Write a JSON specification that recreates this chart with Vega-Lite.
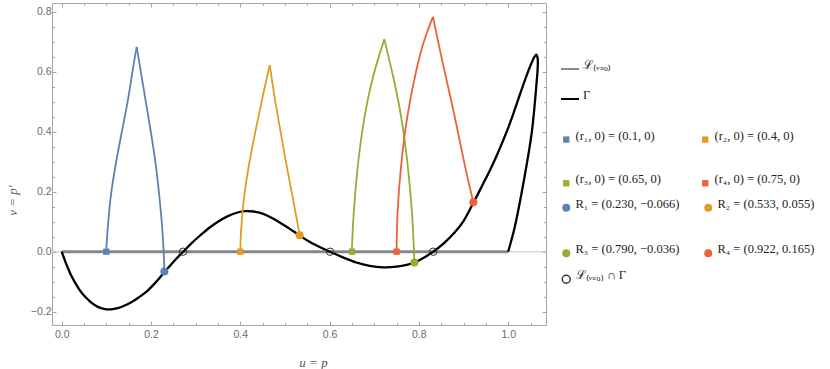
{
  "$schema": "https://vega.github.io/schema/vega-lite/v6.json",
  "width": 494,
  "height": 322,
  "autosize": {"type": "none"},
  "padding": {"left": 52, "top": 3, "right": 284, "bottom": 44},
  "config": {
    "view": {"stroke": null},
    "axis": {
      "grid": false,
      "domainColor": "#a6a6a6",
      "tickColor": "#a6a6a6",
      "labelColor": "#6b6b6b",
      "labelFont": "Liberation Sans",
      "labelFontSize": 10.5,
      "titleFont": "Liberation Serif",
      "titleFontStyle": "italic",
      "titleFontWeight": "normal",
      "titleFontSize": 13,
      "titleColor": "#555555"
    },
    "legend": {
      "labelFont": "Liberation Serif",
      "labelFontSize": 12.5,
      "labelColor": "#222222",
      "padding": 0,
      "labelBaseline": "alphabetic",
      "labelOffset": 3
    }
  },
  "datasets": {
    "Lline": [
      {"u": 0, "v": 0, "name": "ℒ₍ᵥ₌₀₎"},
      {"u": 1, "v": 0, "name": "ℒ₍ᵥ₌₀₎"}
    ],
    "gamma": [
      {"t": 0, "u": 0.0, "v": 0.0},
      {"t": 1, "u": 0.01, "v": -0.04},
      {"t": 2, "u": 0.02, "v": -0.075},
      {"t": 3, "u": 0.03, "v": -0.103},
      {"t": 4, "u": 0.04, "v": -0.127},
      {"t": 5, "u": 0.05, "v": -0.146},
      {"t": 6, "u": 0.06, "v": -0.161},
      {"t": 7, "u": 0.07, "v": -0.174},
      {"t": 8, "u": 0.08, "v": -0.183},
      {"t": 9, "u": 0.09, "v": -0.189},
      {"t": 10, "u": 0.1, "v": -0.192},
      {"t": 11, "u": 0.11, "v": -0.192},
      {"t": 12, "u": 0.125, "v": -0.188},
      {"t": 13, "u": 0.14, "v": -0.18},
      {"t": 14, "u": 0.155, "v": -0.169},
      {"t": 15, "u": 0.17, "v": -0.155},
      {"t": 16, "u": 0.19, "v": -0.133},
      {"t": 17, "u": 0.21, "v": -0.103},
      {"t": 18, "u": 0.23, "v": -0.068},
      {"t": 19, "u": 0.25, "v": -0.034},
      {"t": 20, "u": 0.272, "v": 0.0},
      {"t": 21, "u": 0.29, "v": 0.027},
      {"t": 22, "u": 0.31, "v": 0.054},
      {"t": 23, "u": 0.33, "v": 0.079},
      {"t": 24, "u": 0.35, "v": 0.1},
      {"t": 25, "u": 0.37, "v": 0.117},
      {"t": 26, "u": 0.39, "v": 0.129},
      {"t": 27, "u": 0.41, "v": 0.135},
      {"t": 28, "u": 0.43, "v": 0.134},
      {"t": 29, "u": 0.45, "v": 0.127},
      {"t": 30, "u": 0.47, "v": 0.113},
      {"t": 31, "u": 0.49, "v": 0.096},
      {"t": 32, "u": 0.51, "v": 0.077},
      {"t": 33, "u": 0.533, "v": 0.054},
      {"t": 34, "u": 0.555, "v": 0.033},
      {"t": 35, "u": 0.58, "v": 0.014},
      {"t": 36, "u": 0.601, "v": 0.0},
      {"t": 37, "u": 0.63, "v": -0.019},
      {"t": 38, "u": 0.66, "v": -0.036},
      {"t": 39, "u": 0.69, "v": -0.047},
      {"t": 40, "u": 0.72, "v": -0.052},
      {"t": 41, "u": 0.75, "v": -0.05},
      {"t": 42, "u": 0.775, "v": -0.043},
      {"t": 43, "u": 0.79, "v": -0.036},
      {"t": 44, "u": 0.81, "v": -0.021},
      {"t": 45, "u": 0.832, "v": 0.0},
      {"t": 46, "u": 0.855, "v": 0.027},
      {"t": 47, "u": 0.88, "v": 0.064},
      {"t": 48, "u": 0.9, "v": 0.102},
      {"t": 49, "u": 0.922, "v": 0.163},
      {"t": 50, "u": 0.94, "v": 0.215},
      {"t": 51, "u": 0.96, "v": 0.274},
      {"t": 52, "u": 0.98, "v": 0.34},
      {"t": 53, "u": 1.0, "v": 0.413},
      {"t": 54, "u": 1.015, "v": 0.475},
      {"t": 55, "u": 1.03, "v": 0.54},
      {"t": 56, "u": 1.042, "v": 0.59},
      {"t": 57, "u": 1.052, "v": 0.628},
      {"t": 58, "u": 1.059, "v": 0.65},
      {"t": 59, "u": 1.063, "v": 0.657},
      {"t": 60, "u": 1.066, "v": 0.645},
      {"t": 61, "u": 1.066, "v": 0.61},
      {"t": 62, "u": 1.064, "v": 0.57},
      {"t": 63, "u": 1.0526, "v": 0.395},
      {"t": 64, "u": 1.034, "v": 0.228},
      {"t": 65, "u": 1.015, "v": 0.084},
      {"t": 66, "u": 1.0, "v": 0.0}
    ],
    "arcs": [
      {"s": "1", "part": "1up", "u": 0.1, "v": 0.0},
      {"s": "1", "part": "1up", "u": 0.1003, "v": 0.02},
      {"s": "1", "part": "1up", "u": 0.1022, "v": 0.061},
      {"s": "1", "part": "1up", "u": 0.108, "v": 0.172},
      {"s": "1", "part": "1up", "u": 0.1196, "v": 0.283},
      {"s": "1", "part": "1up", "u": 0.134, "v": 0.395},
      {"s": "1", "part": "1up", "u": 0.149, "v": 0.506},
      {"s": "1", "part": "1up", "u": 0.16, "v": 0.617},
      {"s": "1", "part": "1up", "u": 0.168, "v": 0.683},
      {"s": "1", "part": "1dn", "u": 0.168, "v": 0.683},
      {"s": "1", "part": "1dn", "u": 0.179, "v": 0.583},
      {"s": "1", "part": "1dn", "u": 0.194, "v": 0.45},
      {"s": "1", "part": "1dn", "u": 0.209, "v": 0.317},
      {"s": "1", "part": "1dn", "u": 0.22, "v": 0.172},
      {"s": "1", "part": "1dn", "u": 0.2276, "v": 0.039},
      {"s": "1", "part": "1dn", "u": 0.23, "v": -0.066},
      {"s": "2", "part": "2up", "u": 0.4, "v": 0.0},
      {"s": "2", "part": "2up", "u": 0.4003, "v": 0.02},
      {"s": "2", "part": "2up", "u": 0.401, "v": 0.061},
      {"s": "2", "part": "2up", "u": 0.4068, "v": 0.172},
      {"s": "2", "part": "2up", "u": 0.418, "v": 0.283},
      {"s": "2", "part": "2up", "u": 0.433, "v": 0.395},
      {"s": "2", "part": "2up", "u": 0.4515, "v": 0.528},
      {"s": "2", "part": "2up", "u": 0.466, "v": 0.622},
      {"s": "2", "part": "2dn", "u": 0.466, "v": 0.622},
      {"s": "2", "part": "2dn", "u": 0.478, "v": 0.5},
      {"s": "2", "part": "2dn", "u": 0.491, "v": 0.395},
      {"s": "2", "part": "2dn", "u": 0.504, "v": 0.283},
      {"s": "2", "part": "2dn", "u": 0.5187, "v": 0.172},
      {"s": "2", "part": "2dn", "u": 0.533, "v": 0.055},
      {"s": "3", "part": "3up", "u": 0.65, "v": 0.0},
      {"s": "3", "part": "3up", "u": 0.6503, "v": 0.02},
      {"s": "3", "part": "3up", "u": 0.653, "v": 0.117},
      {"s": "3", "part": "3up", "u": 0.662, "v": 0.283},
      {"s": "3", "part": "3up", "u": 0.677, "v": 0.45},
      {"s": "3", "part": "3up", "u": 0.698, "v": 0.595},
      {"s": "3", "part": "3up", "u": 0.7226, "v": 0.708},
      {"s": "3", "part": "3dn", "u": 0.7226, "v": 0.708},
      {"s": "3", "part": "3dn", "u": 0.743, "v": 0.583},
      {"s": "3", "part": "3dn", "u": 0.7615, "v": 0.45},
      {"s": "3", "part": "3dn", "u": 0.776, "v": 0.283},
      {"s": "3", "part": "3dn", "u": 0.786, "v": 0.117},
      {"s": "3", "part": "3dn", "u": 0.79, "v": -0.036},
      {"s": "4", "part": "4up", "u": 0.75, "v": 0.0},
      {"s": "4", "part": "4up", "u": 0.7503, "v": 0.02},
      {"s": "4", "part": "4up", "u": 0.751, "v": 0.117},
      {"s": "4", "part": "4up", "u": 0.759, "v": 0.283},
      {"s": "4", "part": "4up", "u": 0.7727, "v": 0.45},
      {"s": "4", "part": "4up", "u": 0.795, "v": 0.617},
      {"s": "4", "part": "4up", "u": 0.8137, "v": 0.717},
      {"s": "4", "part": "4up", "u": 0.8316, "v": 0.783},
      {"s": "4", "part": "4dn", "u": 0.8316, "v": 0.783},
      {"s": "4", "part": "4dn", "u": 0.8547, "v": 0.617},
      {"s": "4", "part": "4dn", "u": 0.881, "v": 0.45},
      {"s": "4", "part": "4dn", "u": 0.903, "v": 0.283},
      {"s": "4", "part": "4dn", "u": 0.918, "v": 0.189},
      {"s": "4", "part": "4dn", "u": 0.922, "v": 0.165}
    ],
    "squares": [
      {"u": 0.1, "v": 0, "lab": "(r₁, 0) = (0.1, 0)"},
      {"u": 0.4, "v": 0, "lab": "(r₂, 0) = (0.4, 0)"},
      {"u": 0.65, "v": 0, "lab": "(r₃, 0) = (0.65, 0)"},
      {"u": 0.75, "v": 0, "lab": "(r₄, 0) = (0.75, 0)"}
    ],
    "circles": [
      {"u": 0.23, "v": -0.066, "lab": "R₁ = (0.230, −0.066)"},
      {"u": 0.533, "v": 0.055, "lab": "R₂ = (0.533, 0.055)"},
      {"u": 0.79, "v": -0.036, "lab": "R₃ = (0.790, −0.036)"},
      {"u": 0.922, "v": 0.165, "lab": "R₄ = (0.922, 0.165)"}
    ],
    "inter": [
      {"u": 0.272, "v": 0, "lab": "ℒ₍ᵥ₌₀₎ ∩ Γ"},
      {"u": 0.601, "v": 0, "lab": "ℒ₍ᵥ₌₀₎ ∩ Γ"},
      {"u": 0.832, "v": 0, "lab": "ℒ₍ᵥ₌₀₎ ∩ Γ"}
    ]
  },
  "layer": [
    {
      "data": {"name": "Lline"},
      "mark": {"type": "rule", "color": "#d4d4d4", "strokeWidth": 1},
      "encoding": {
        "y": {"datum": 0, "type": "quantitative", "scale": {"domain": [-0.2443, 0.829], "nice": false, "zero": false}, "axis": null}
      }
    },
    {
      "data": {"name": "Lline"},
      "mark": {"type": "line", "strokeWidth": 3},
      "encoding": {
        "x": {"field": "u", "type": "quantitative", "scale": {"domain": [-0.0217, 1.0847], "nice": false, "zero": false},
          "axis": {"orient": "bottom", "title": "u = p", "titleX": 261, "titleY": 37, "titleBaseline": "middle", "titleAlign": "center",
            "values": [0, 0.05, 0.1, 0.15, 0.2, 0.25, 0.3, 0.35, 0.4, 0.45, 0.5, 0.55, 0.6, 0.65, 0.7, 0.75, 0.8, 0.85, 0.9, 0.95, 1.0, 1.05],
            "labelExpr": "abs(round(datum.value*20) % 4) == 0 ? format(datum.value, '.1f') : ''",
            "tickSize": {"condition": {"test": "abs(round(datum.value*20) % 4) == 0", "value": -4}, "value": -2.5},
            "labelPadding": 8}},
        "y": {"field": "v", "type": "quantitative", "scale": {"domain": [-0.2443, 0.829], "nice": false, "zero": false},
          "axis": {"orient": "left", "title": "v = p′", "titleX": -40, "titleY": 197, "titleBaseline": "middle", "titleAlign": "center", "titleAngle": 270,
            "values": [-0.2, -0.15, -0.1, -0.05, 0, 0.05, 0.1, 0.15, 0.2, 0.25, 0.3, 0.35, 0.4, 0.45, 0.5, 0.55, 0.6, 0.65, 0.7, 0.75, 0.8],
            "labelExpr": "abs(round(datum.value*20) % 4) == 0 ? format(datum.value, '.1f') : ''",
            "tickSize": {"condition": {"test": "abs(round(datum.value*20) % 4) == 0", "value": -4}, "value": -2.5},
            "labelPadding": 5}},
        "stroke": {"field": "name", "type": "nominal",
          "scale": {"domain": ["ℒ₍ᵥ₌₀₎", "Γ"], "range": ["#878787", "#000000"]},
          "legend": {"title": null, "orient": "none", "legendX": 508, "legendY": 56, "symbolType": "stroke", "symbolSize": 324, "symbolStrokeWidth": 2, "rowPadding": 16}}
      }
    },
    {
      "data": {"name": "gamma"},
      "mark": {"type": "line", "strokeWidth": 2.3, "interpolate": "catmull-rom"},
      "encoding": {
        "x": {"field": "u", "type": "quantitative", "scale": {"domain": [-0.0217, 1.0847], "nice": false, "zero": false},
          "axis": {"orient": "top", "title": null, "labels": false,
            "values": [0, 0.05, 0.1, 0.15, 0.2, 0.25, 0.3, 0.35, 0.4, 0.45, 0.5, 0.55, 0.6, 0.65, 0.7, 0.75, 0.8, 0.85, 0.9, 0.95, 1.0, 1.05],
            "tickSize": {"condition": {"test": "abs(round(datum.value*20) % 4) == 0", "value": -4}, "value": -2.5}}},
        "y": {"field": "v", "type": "quantitative", "scale": {"domain": [-0.2443, 0.829], "nice": false, "zero": false},
          "axis": {"orient": "right", "title": null, "labels": false,
            "values": [-0.2, -0.15, -0.1, -0.05, 0, 0.05, 0.1, 0.15, 0.2, 0.25, 0.3, 0.35, 0.4, 0.45, 0.5, 0.55, 0.6, 0.65, 0.7, 0.75, 0.8],
            "tickSize": {"condition": {"test": "abs(round(datum.value*20) % 4) == 0", "value": -4}, "value": -2.5}}},
        "stroke": {"datum": "Γ", "type": "nominal"},
        "order": {"field": "t", "type": "quantitative"}
      }
    },
    {
      "data": {"name": "arcs"},
      "mark": {"type": "line", "strokeWidth": 1.8, "interpolate": "basis"},
      "encoding": {
        "x": {"field": "u", "type": "quantitative", "scale": {"domain": [-0.0217, 1.0847], "nice": false, "zero": false}, "axis": null},
        "y": {"field": "v", "type": "quantitative", "scale": {"domain": [-0.2443, 0.829], "nice": false, "zero": false}, "axis": null},
        "color": {"field": "s", "type": "nominal", "scale": {"domain": ["1", "2", "3", "4"], "range": ["#5E81B5", "#E19C24", "#8FB032", "#EB6235"]}, "legend": null},
        "detail": {"field": "part", "type": "nominal"}
      }
    },
    {
      "data": {"name": "squares"},
      "mark": {"type": "square", "size": 40, "opacity": 1},
      "encoding": {
        "x": {"field": "u", "type": "quantitative", "scale": {"domain": [-0.0217, 1.0847], "nice": false, "zero": false}, "axis": null},
        "y": {"field": "v", "type": "quantitative", "scale": {"domain": [-0.2443, 0.829], "nice": false, "zero": false}, "axis": null},
        "fill": {"field": "lab", "type": "nominal",
          "scale": {"domain": ["(r₁, 0) = (0.1, 0)", "(r₃, 0) = (0.65, 0)", "(r₂, 0) = (0.4, 0)", "(r₄, 0) = (0.75, 0)"], "range": ["#5E81B5", "#8FB032", "#E19C24", "#EB6235"]},
          "legend": {"title": null, "orient": "none", "legendX": 508, "legendY": 130, "columns": 2, "columnPadding": 38, "rowPadding": 30, "gridAlign": "all", "symbolSize": 40, "symbolType": "square"}}
      }
    },
    {
      "data": {"name": "circles"},
      "mark": {"type": "circle", "size": 64, "opacity": 1},
      "encoding": {
        "x": {"field": "u", "type": "quantitative", "scale": {"domain": [-0.0217, 1.0847], "nice": false, "zero": false}, "axis": null},
        "y": {"field": "v", "type": "quantitative", "scale": {"domain": [-0.2443, 0.829], "nice": false, "zero": false}, "axis": null},
        "fill": {"field": "lab", "type": "nominal",
          "scale": {"domain": ["R₁ = (0.230, −0.066)", "R₃ = (0.790, −0.036)", "R₂ = (0.533, 0.055)", "R₄ = (0.922, 0.165)"], "range": ["#5E81B5", "#8FB032", "#E19C24", "#EB6235"]},
          "legend": {"title": null, "orient": "none", "legendX": 508, "legendY": 198, "columns": 2, "columnPadding": 22, "rowPadding": 31, "gridAlign": "all", "symbolSize": 64, "symbolType": "circle"}}
      }
    },
    {
      "data": {"name": "inter"},
      "mark": {"type": "point", "filled": false, "size": 55, "strokeWidth": 1, "color": "#333333", "opacity": 1},
      "encoding": {
        "x": {"field": "u", "type": "quantitative", "scale": {"domain": [-0.0217, 1.0847], "nice": false, "zero": false}, "axis": null},
        "y": {"field": "v", "type": "quantitative", "scale": {"domain": [-0.2443, 0.829], "nice": false, "zero": false}, "axis": null},
        "shape": {"field": "lab", "type": "nominal", "scale": {"range": ["circle"]},
          "legend": {"title": null, "orient": "none", "legendX": 508, "legendY": 270, "symbolSize": 64, "symbolStrokeColor": "#333333", "symbolFillColor": "transparent"}}
      }
    }
  ],
  "resolve": {
    "scale": {"fill": "independent"},
    "axis": {"x": "independent", "y": "independent"}
  }
}
